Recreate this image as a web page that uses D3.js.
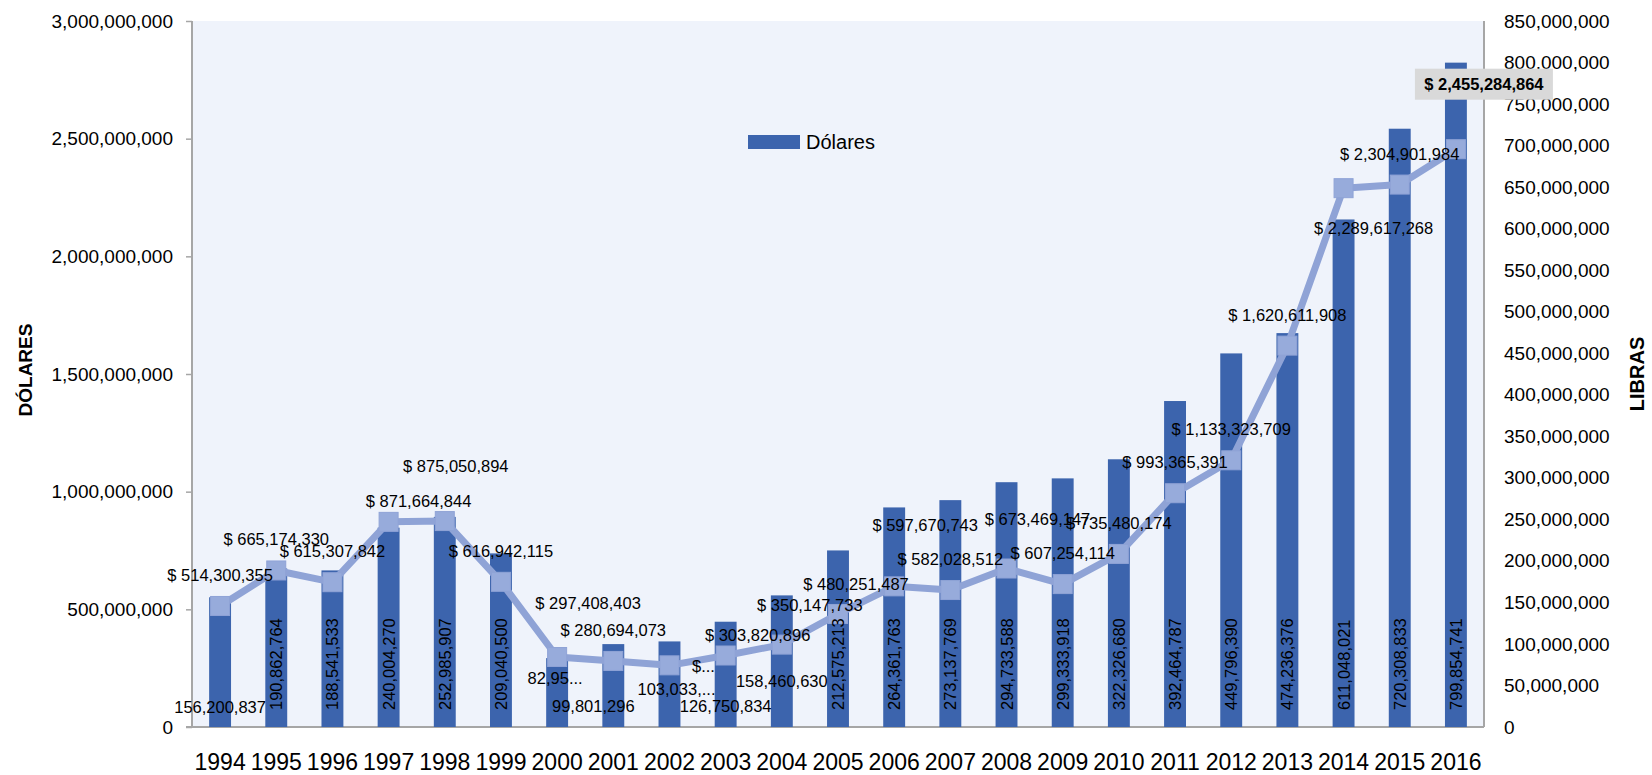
<!DOCTYPE html>
<html>
<head>
  <meta charset="utf-8">
  <title>Dólares y Libras</title>
  <script src="https://cdnjs.cloudflare.com/ajax/libs/d3/7.8.5/d3.min.js"></script>
  <style type="text/css">
    body { margin: 0; background: #fff; }
    svg { font-family: "Liberation Sans", Arial, sans-serif; }
    .axis path { display: none; }
    .axis line { stroke: #a6a6a6; stroke-width: 1.5; }
    .axis text { fill: #000; }
  </style>
</head>
<body>
<svg id="vis" width="1652" height="775"></svg>

<script type="text/javascript">
  // datos
  var years = ['1994','1995','1996','1997','1998','1999','2000','2001','2002','2003','2004',
               '2005','2006','2007','2008','2009','2010','2011','2012','2013','2014','2015','2016']
  var dolares = [514300355, 665174330, 615307842, 871664844, 875050894, 616942115, 297408403,
                 280694073, 262000000, 303820896, 350147733, 480251487, 597670743, 582028512,
                 673469147, 607254114, 735480174, 993365391, 1133323709, 1620611908, 2289617268,
                 2304901984, 2455284864]
  var libras = [156200837, 190862764, 188541533, 240004270, 252985907, 209040500, 82950000,
                99801296, 103033000, 126750834, 158460630, 212575213, 264361763, 273137769,
                294733588, 299333918, 322326680, 392464787, 449796390, 474236376, 611048021,
                720308833, 799854741]
  // labels that Excel cut short
  var dolaresCortos = { '2002': '$...' }
  var librasCortos = { '2000': '82,95...', '2002': '103,033,...' }
  var ticksIzq = d3.range(0, 3000000001, 500000000)
  var ticksDer = d3.range(0, 850000001, 50000000)

  // label nudges (dx, dy from marker) where excel moved them
  var nudgeDol = { '1997': [30, -21], '1998': [11, -55], '2000': [31, -54], '2002': [34, 1],
                   '2003': [32, -21], '2004': [28, -40], '2005': [18, -30], '2006': [31, -61],
                   '2008': [31, -50], '2014': [30, 40], '2016': [28, -65] }
  // horizontal bar labels (dx, dy from base); the rest go rotated inside the bar
  var nudgeLib = { '1994': [0, -20], '2000': [-2, -49], '2001': [-20, -21], '2002': [7, -38],
                   '2003': [0, -21], '2004': [0, -46] }

  var svg = d3.select('#vis')
  var margin = { top: 21, right: 168, bottom: 48, left: 192 }
  var width = 1652, height = 775
  var fmt = d3.format(',')

  var x = d3.scaleBand()
    .domain(years)
    .range([margin.left, width - margin.right])
    .paddingInner(0.61)
    .paddingOuter(0.305)
  var yL = d3.scaleLinear().domain([0, 3000000000]).range([height - margin.bottom, margin.top])
  var yR = d3.scaleLinear().domain([0, 850000000]).range([height - margin.bottom, margin.top])
  var cx = function(d) { return x(d) + x.bandwidth() / 2 }
  var y0 = height - margin.bottom

  // plot area
  svg.append('rect')
    .attr('x', margin.left).attr('y', margin.top)
    .attr('width', width - margin.right - margin.left)
    .attr('height', y0 - margin.top)
    .attr('fill', '#eff3fb')

  // axes
  var gl = svg.append('g').attr('class', 'axis')
    .attr('transform', 'translate(' + margin.left + ',0)')
    .call(d3.axisLeft(yL).tickValues(ticksIzq).tickSize(6).tickPadding(13).tickFormat(fmt))
  gl.selectAll('text').style('font-size', '19px')

  var gr = svg.append('g').attr('class', 'axis')
    .attr('transform', 'translate(' + (width - margin.right) + ',0)')
    .call(d3.axisRight(yR).tickValues(ticksDer).tickSize(0).tickPadding(20).tickFormat(fmt))
  gr.selectAll('text').style('font-size', '19px')

  var gb = svg.append('g').attr('class', 'axis')
    .attr('transform', 'translate(0,' + y0 + ')')
    .call(d3.axisBottom(x).tickSize(0))
  gb.selectAll('text').style('font-size', '23px').attr('y', 43).attr('dy', 0)

  svg.append('line')
    .attr('x1', margin.left).attr('x2', margin.left)
    .attr('y1', margin.top).attr('y2', y0)
    .attr('stroke', '#a6a6a6').attr('stroke-width', 2)
  svg.append('line')
    .attr('x1', width - margin.right).attr('x2', width - margin.right)
    .attr('y1', margin.top).attr('y2', y0)
    .attr('stroke', '#a6a6a6').attr('stroke-width', 2)
  svg.append('line')
    .attr('x1', margin.left - 6).attr('x2', width - margin.right)
    .attr('y1', y0).attr('y2', y0)
    .attr('stroke', '#a6a6a6').attr('stroke-width', 2)

  // bars (libras, right axis)
  svg.append('g').selectAll('rect')
    .data(years)
    .enter().append('rect')
      .attr('x', function(d) { return x(d) })
      .attr('y', function(d, i) { return yR(libras[i]) })
      .attr('width', x.bandwidth())
      .attr('height', function(d, i) { return y0 - yR(libras[i]) })
      .attr('fill', '#3c64ad')

  // line (dolares, left axis)
  var line = d3.line()
    .x(function(d, i) { return cx(years[i]) })
    .y(function(d) { return yL(d) })
  svg.append('path')
    .datum(dolares)
    .attr('d', line)
    .attr('fill', 'none')
    .attr('stroke', '#8fa3d6')
    .attr('stroke-width', 7)
    .attr('stroke-linejoin', 'round')

  svg.append('g').selectAll('rect')
    .data(dolares)
    .enter().append('rect')
      .attr('x', function(d, i) { return cx(years[i]) - 9.5 })
      .attr('y', function(d) { return yL(d) - 9.5 })
      .attr('width', 19).attr('height', 19)
      .attr('fill', '#97abdb')
      .attr('stroke', '#8fa3d6')
      .attr('stroke-width', 1)

  // bar labels
  var lb = svg.append('g').style('font-size', '16.5px').attr('fill', '#000')
  years.forEach(function(yr, i) {
    var txt = librasCortos[yr] || fmt(libras[i])
    var n = nudgeLib[yr]
    if (n) {
      lb.append('text')
        .attr('x', cx(yr) + n[0]).attr('y', y0 + n[1])
        .attr('text-anchor', 'middle').attr('dominant-baseline', 'central')
        .text(txt)
    } else {
      lb.append('text')
        .attr('transform', 'translate(' + cx(yr) + ',' + (y0 - 17) + ') rotate(-90)')
        .attr('text-anchor', 'start').attr('dominant-baseline', 'central')
        .text(txt)
    }
  })

  // line labels
  var ld = svg.append('g').style('font-size', '16.5px').attr('fill', '#000')
  years.forEach(function(yr, i) {
    var txt = dolaresCortos[yr] || ('$ ' + fmt(dolares[i]))
    var n = nudgeDol[yr] || [0, -31]
    var lx = cx(yr) + n[0], ly = yL(dolares[i]) + n[1]
    if (i === years.length - 1) {
      ld.append('rect')
        .attr('x', lx - 69).attr('y', ly - 15.5)
        .attr('width', 138).attr('height', 31)
        .attr('fill', '#d9d9d9')
      ld.append('text')
        .attr('x', lx).attr('y', ly)
        .attr('text-anchor', 'middle').attr('dominant-baseline', 'central')
        .style('font-weight', 'bold')
        .text(txt)
    } else {
      ld.append('text')
        .attr('x', lx).attr('y', ly)
        .attr('text-anchor', 'middle').attr('dominant-baseline', 'central')
        .text(txt)
    }
  })

  // legend
  svg.append('rect')
    .attr('x', 748).attr('y', 135).attr('width', 52).attr('height', 14)
    .attr('fill', '#3c64ad')
  svg.append('text')
    .attr('x', 806).attr('y', 142)
    .attr('dominant-baseline', 'central')
    .style('font-size', '20px')
    .text('Dólares')

  // axis titles
  svg.append('text')
    .attr('transform', 'translate(25,370) rotate(-90)')
    .attr('text-anchor', 'middle').attr('dominant-baseline', 'central')
    .style('font-size', '19px').style('font-weight', 'bold')
    .text('DÓLARES')
  svg.append('text')
    .attr('transform', 'translate(1637,374) rotate(-90)')
    .attr('text-anchor', 'middle').attr('dominant-baseline', 'central')
    .style('font-size', '20px').style('font-weight', 'bold')
    .text('LIBRAS')
</script>
</body>
</html>
